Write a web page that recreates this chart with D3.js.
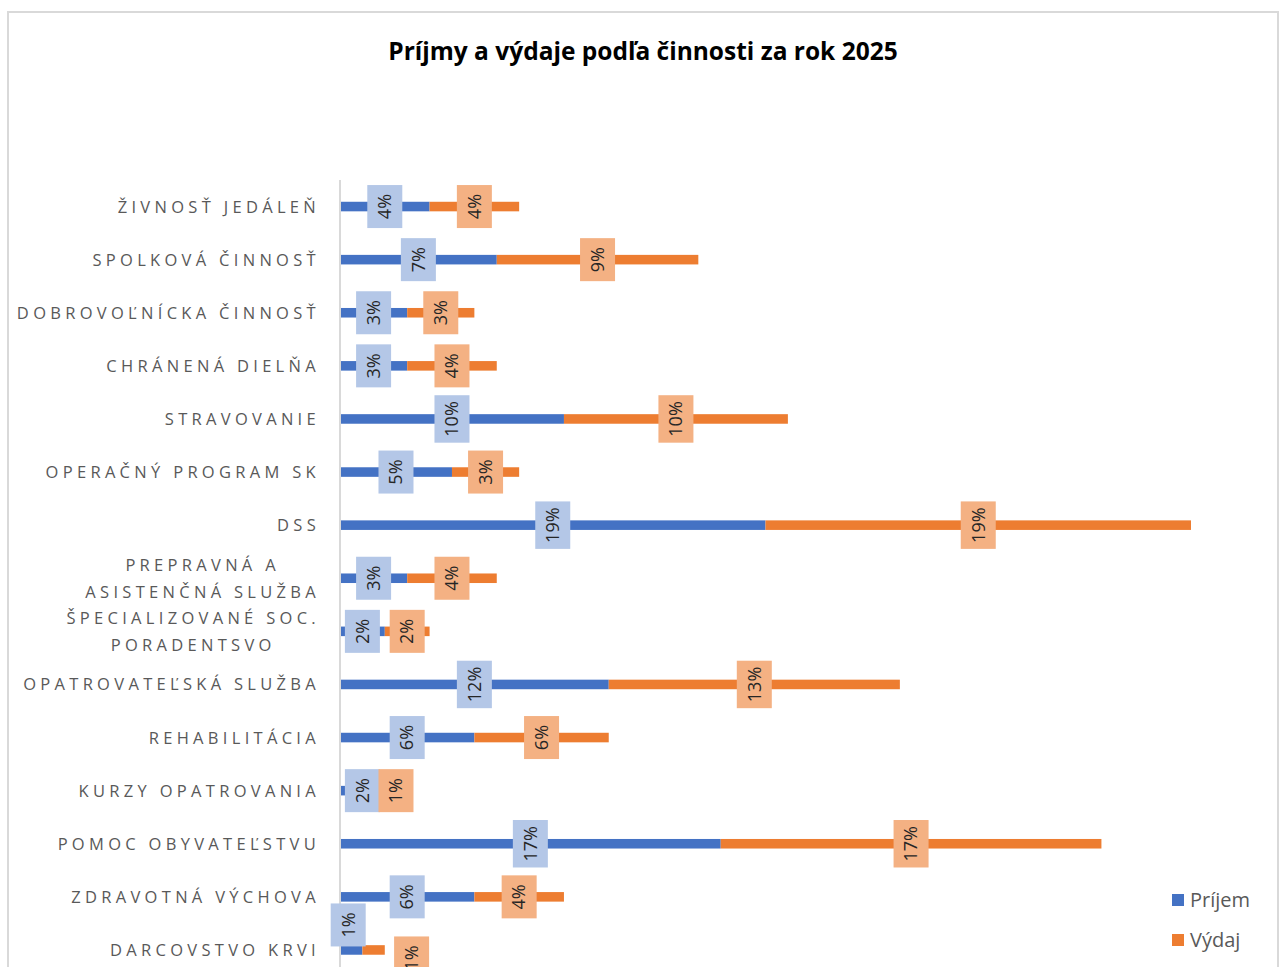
<!DOCTYPE html>
<html>
<head>
<meta charset="utf-8">
<script src="https://cdn.jsdelivr.net/npm/d3@7"></script>
<style>
  body { margin: 0; background: #fff; }
  svg { display: block; }
</style>
</head>
<body>
<div id="chart"></div>
<script>
// categories top to bottom
var categories = [
  "ŽIVNOSŤ JEDÁLEŇ", "SPOLKOVÁ ČINNOSŤ", "DOBROVOĽNÍCKA ČINNOSŤ", "CHRÁNENÁ DIELŇA",
  "STRAVOVANIE", "OPERAČNÝ PROGRAM SK", "DSS", "PREPRAVNÁ A|ASISTENČNÁ SLUŽBA",
  "ŠPECIALIZOVANÉ SOC.|PORADENTSVO", "OPATROVATEĽSKÁ SLUŽBA", "REHABILITÁCIA",
  "KURZY OPATROVANIA", "POMOC OBYVATEĽSTVU", "ZDRAVOTNÁ VÝCHOVA", "DARCOVSTVO KRVI"
];
// share of yearly total, in %
var prijem = [4, 7, 3, 3, 10, 5, 19, 3, 2, 12, 6, 2, 17, 6, 1];
var vydaj  = [4, 9, 3, 4, 10, 3, 19, 4, 2, 13, 6, 1, 17, 4, 1];
var seriesNames = ["Príjem", "Výdaj"];
var colors = ["#4472c4", "#ed7d31"];
var labelFill = ["#b4c7e7", "#f4b183"];

var W = 1280, H = 967;
var svg = d3.select("#chart").append("svg")
  .attr("width", W).attr("height", H);

// chart frame
svg.append("rect")
  .attr("x", 8).attr("y", 12).attr("width", W - 10).attr("height", H)
  .attr("fill", "#fff").attr("stroke", "#d9d9d9").attr("stroke-width", 2);

svg.append("text")
  .attr("x", 643).attr("y", 60)
  .attr("text-anchor", "middle")
  .attr("font-family", "'Open Sans', sans-serif")
  .attr("font-weight", "bold")
  .attr("font-size", 24.5)
  .attr("fill", "#000")
  .text("Príjmy a výdaje podľa činnosti za rok 2025");

var x = d3.scaleLinear().domain([0, 38]).range([340, 1191]);
var y = d3.scaleBand().domain(categories).range([180, 180 + 53.1 * categories.length]).paddingInner(0.82).paddingOuter(0.41);

var rows = categories.map(function(c, i) {
  return { cat: c, vals: [prijem[i], vydaj[i]] };
});

// stacked segments
rows.forEach(function(r) {
  var start = 0;
  r.segs = r.vals.map(function(v, k) {
    var s = { cat: r.cat, k: k, v: v, x0: start, x1: start + v };
    start += v;
    return s;
  });
});
var segs = [].concat.apply([], rows.map(function(r) { return r.segs; }));

svg.append("g").selectAll("rect")
  .data(segs).enter().append("rect")
  .attr("x", function(d) { return x(d.x0); })
  .attr("y", function(d) { return y(d.cat); })
  .attr("width", function(d) { return x(d.x1) - x(d.x0); })
  .attr("height", y.bandwidth())
  .attr("fill", function(d) { return colors[d.k]; });

// vertical axis line
svg.append("line")
  .attr("x1", 340).attr("x2", 340)
  .attr("y1", 180).attr("y2", H)
  .attr("stroke", "#d9d9d9").attr("stroke-width", 2);

// category labels
var catG = svg.append("g")
  .attr("font-family", "'Open Sans', sans-serif")
  .attr("font-size", 16.5)
  .attr("fill", "#595959")
  .attr("letter-spacing", 4.3);

categories.forEach(function(c) {
  var lines = c.split("|");
  var cy = y(c) + y.bandwidth() / 2;
  var t = catG.append("text").attr("text-anchor", "middle");
  var spans = lines.map(function(l, i) {
    return t.append("tspan").attr("y", cy + 6 + (i - (lines.length - 1) / 2) * 27).text(l);
  });
  var maxW = d3.max(spans, function(s) { return s.node().getComputedTextLength(); });
  spans.forEach(function(s) { s.attr("x", 320 - maxW / 2); });
});

// data labels (rotated)
var lblG = svg.append("g");
segs.forEach(function(d) {
  var cx = x((d.x0 + d.x1) / 2);
  var cy = y(d.cat) + y.bandwidth() / 2;
  // tiny last row: Excel pushes labels off the bar
  if (d.x1 <= 2 && d.v <= 1) {
    if (d.k === 0) { cx -= 3; cy -= 25; } else { cx += 38; cy += 8; }
  }
  var g = lblG.append("g").attr("transform", "translate(" + cx + "," + cy + ")");
  var txt = g.append("text")
    .attr("transform", "rotate(-90)")
    .attr("text-anchor", "middle")
    .attr("dy", "0.35em")
    .attr("font-family", "'Open Sans', sans-serif")
    .attr("font-size", 18)
    .attr("fill", "#262626")
    .text(d.v + "%");
  var len = txt.node().getComputedTextLength();
  var bh = Math.max(43, len + 12);
  g.insert("rect", "text")
    .attr("x", -17.5).attr("y", -bh / 2)
    .attr("width", 35).attr("height", bh)
    .attr("fill", labelFill[d.k]);
});

// legend
var leg = svg.append("g");
seriesNames.forEach(function(n, i) {
  var ly = 900 + i * 40;
  leg.append("rect").attr("x", 1172).attr("y", ly - 6).attr("width", 12).attr("height", 12).attr("fill", colors[i]);
  leg.append("text").attr("x", 1190).attr("y", ly + 7)
    .attr("font-family", "'Open Sans', sans-serif")
    .attr("font-size", 20).attr("fill", "#595959").text(n);
});
</script>
</body>
</html>
